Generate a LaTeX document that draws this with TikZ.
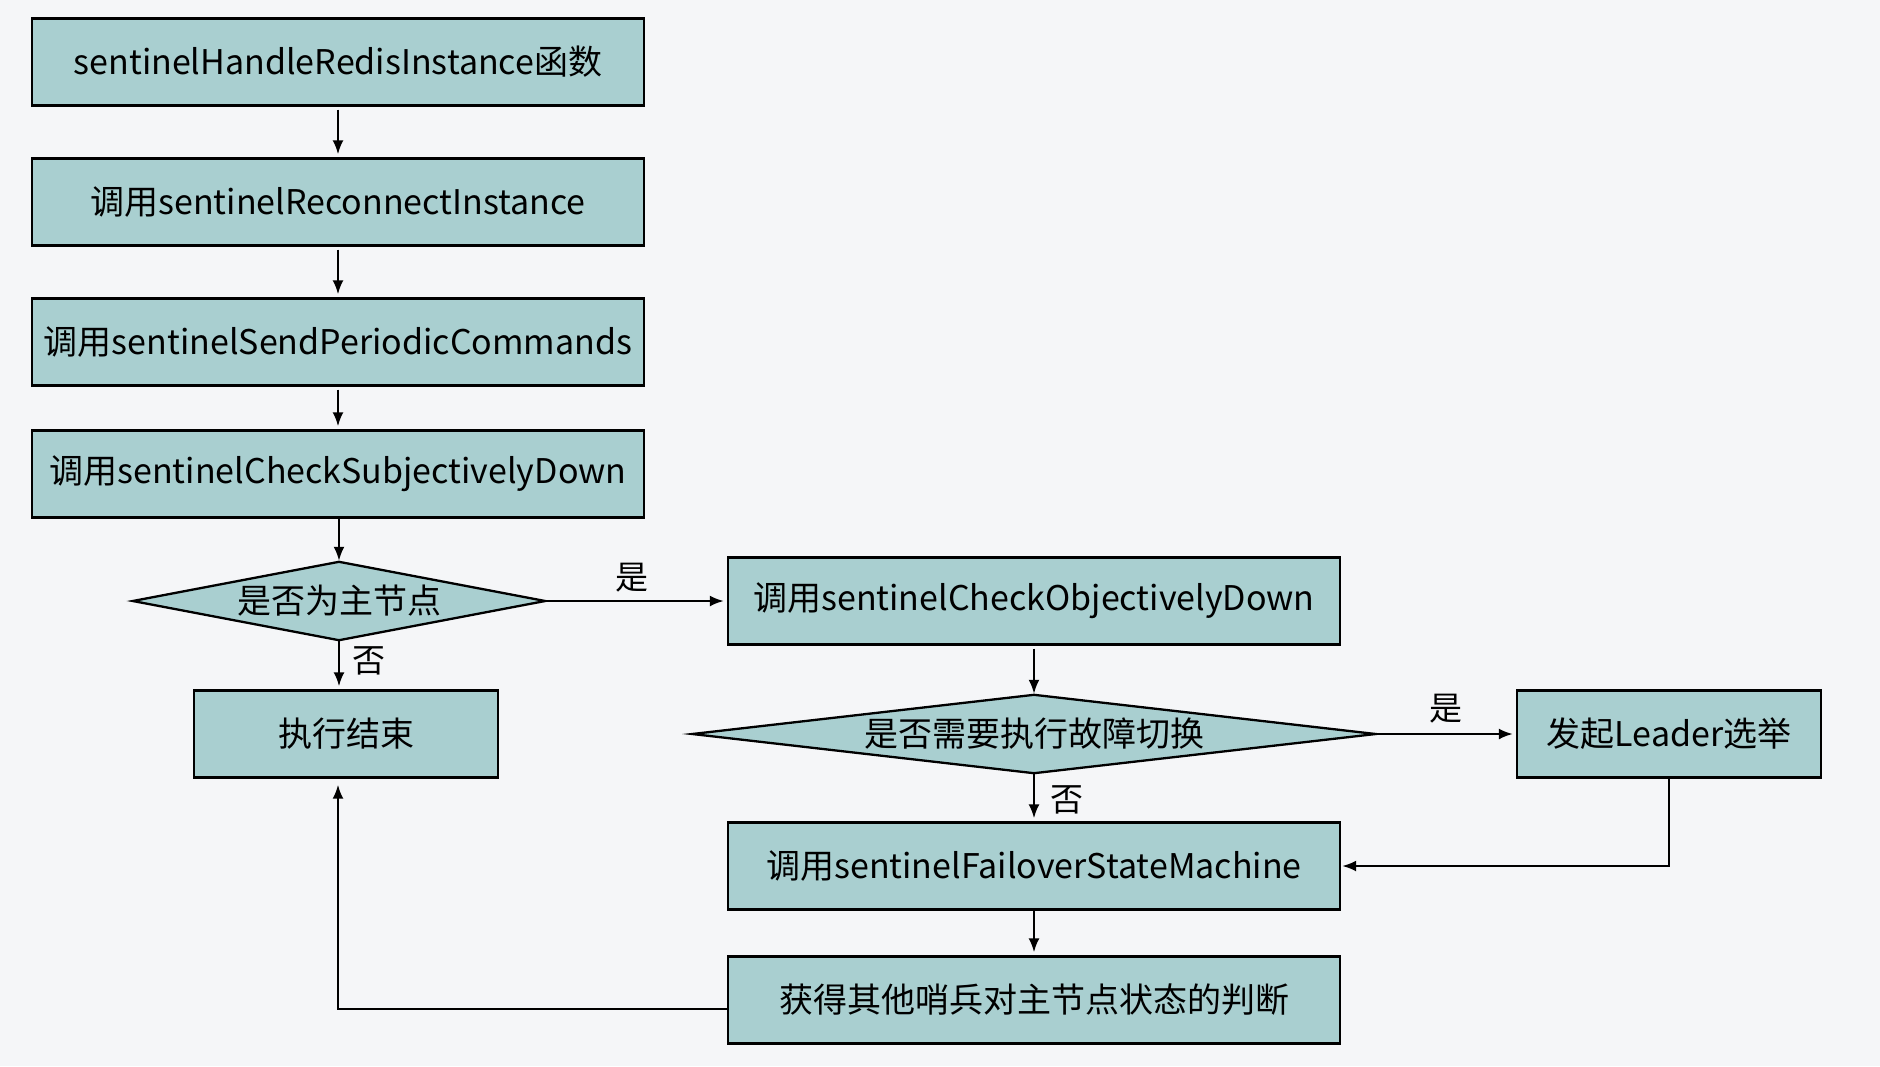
\documentclass[tikz,border=0pt]{standalone}
\usepackage{fontspec}
\setmainfont{Noto Sans CJK SC}
\usetikzlibrary{arrows.meta,backgrounds}
\definecolor{boxfill}{RGB}{169,207,208}
\definecolor{pagebg}{RGB}{245,246,248}
\begin{document}
\begin{tikzpicture}[x=1pt,y=-1pt,
  box/.style={draw=black,fill=boxfill,line width=2.3pt,inner sep=0pt,minimum height=87pt,font=\fontsize{34}{38}\selectfont},
  wide/.style={box,minimum width=612pt},
  narrow/.style={box,minimum width=304pt},
  dtext/.style={inner sep=0pt,font=\fontsize{34}{38}\selectfont},
  dshape/.style={draw=black,fill=boxfill,line width=2.3pt,line join=miter},
  arr/.style={-{Latex[length=14pt,width=11pt]},line width=2.3pt,shorten <=3pt,shorten >=3pt},
  lbl/.style={inner sep=0pt,font=\fontsize{33}{36}\selectfont}]
\useasboundingbox (0,0) rectangle (1880,1066);
\begin{scope}[on background layer]
\fill[pagebg] (0,0) rectangle (1880,1066);
\end{scope}

\node[wide] (b1) at (338,62) {sentinelHandleRedisInstance函数};
\node[wide] (b2) at (338,202) {调用sentinelReconnectInstance};
\node[wide] (b3) at (338,342) {调用sentinelSendPeriodicCommands};
\node[wide] (b4) at (338,474) {调用sentinelCheckSubjectivelyDown};

\node[dtext,minimum width=412pt,minimum height=78pt] (d1) at (339,601) {是否为主节点};
\node[narrow] (end) at (346,734) {执行结束};
\node[wide] (od) at (1034,601) {调用sentinelCheckObjectivelyDown};
\node[dtext,minimum width=683pt,minimum height=78pt] (d2) at (1034,734) {是否需要执行故障切换};
\node[narrow] (ld) at (1669,734) {发起Leader选举};
\node[wide] (fsm) at (1034,866) {调用sentinelFailoverStateMachine};
\node[wide] (oth) at (1034,1000) {获得其他哨兵对主节点状态的判断};

\begin{scope}[on background layer]
\filldraw[dshape] (d1.west) -- (d1.north) -- (d1.east) -- (d1.south) -- cycle;
\filldraw[dshape] (d2.west) -- (d2.north) -- (d2.east) -- (d2.south) -- cycle;
\end{scope}

\draw[arr] (b1) -- (b2);
\draw[arr] (b2) -- (b3);
\draw[arr] (b3) -- (b4);
\draw[arr,shorten <=0pt,shorten >=1pt] (b4.south -| d1.north) -- (d1.north);
\draw[arr,shorten <=0pt] (d1.south) -- (d1.south |- end.north);
\draw[arr,shorten <=0pt] (d1.east) -- (od.west);
\draw[arr,shorten >=1pt] (od) -- (d2.north);
\draw[arr,shorten <=0pt] (d2.east) -- (ld.west);
\draw[arr,shorten <=0pt] (d2.south) -- (fsm.north);
\draw[arr,shorten <=0pt] (fsm) -- (oth);
\draw[arr,shorten <=0pt,shorten >=1pt] (ld.south) |- (fsm.east);
\coordinate (lp) at (338,1009);
\draw[arr,shorten <=0pt,shorten >=6pt] (oth.west |- lp) -- (lp) -- (lp |- end.south);

\node[lbl] (l1) at (632,578) {是};
\node[lbl] (l2) at (369,661) {否};
\node[lbl] (l3) at (1446,709) {是};
\node[lbl] (l4) at (1067,800) {否};
\end{tikzpicture}
\end{document}
